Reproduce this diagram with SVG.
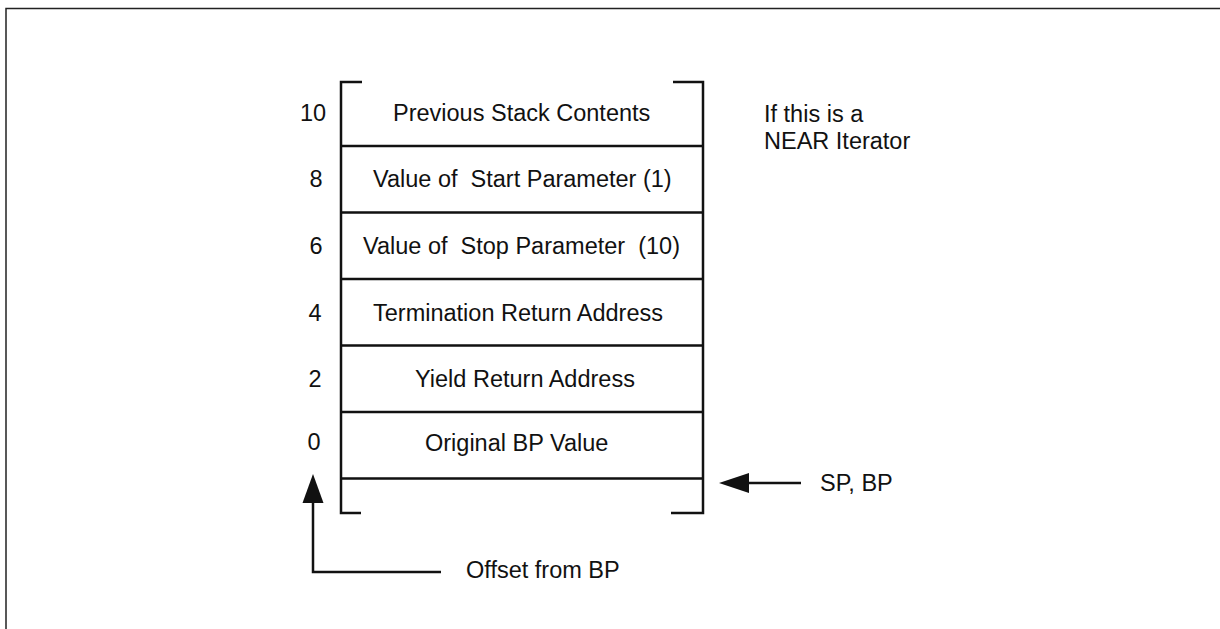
<svg xmlns="http://www.w3.org/2000/svg" width="1220" height="629" viewBox="0 0 1220 629">
<style>
.t{font-family:"Liberation Sans",Arial,sans-serif;font-size:23.5px;fill:#111;white-space:pre}
.ln{stroke:#111;stroke-width:2.5;fill:none}
.ah{fill:#111;stroke:none}
</style>
<rect width="1220" height="629" fill="#fff"/>
<rect x="6" y="8.5" width="1400" height="800" fill="none" stroke="#222" stroke-width="1.5"/>
<g id="stack">
<path class="ln" d="M362,82 H341 V513 H361"/>
<path class="ln" d="M673,82 H703 V513 H671"/>
<path class="ln" d="M341,146 H703 M341,212.5 H703 M341,279 H703 M341,345.5 H703 M341,412 H703 M341,478.5 H703"/>
</g>
<g id="row10"><text class="t" x="313" y="121" text-anchor="middle">10</text><text class="t" x="393" y="121">Previous Stack Contents</text></g>
<g id="row8"><text class="t" x="316" y="187" text-anchor="middle">8</text><text class="t" x="373" y="187" xml:space="preserve">Value of  Start Parameter (1)</text></g>
<g id="row6"><text class="t" x="316" y="254" text-anchor="middle">6</text><text class="t" x="363" y="254" xml:space="preserve">Value of  Stop Parameter  (10)</text></g>
<g id="row4"><text class="t" x="315" y="321" text-anchor="middle">4</text><text class="t" x="373" y="321">Termination Return Address</text></g>
<g id="row2"><text class="t" x="315" y="387" text-anchor="middle">2</text><text class="t" x="415" y="387">Yield Return Address</text></g>
<g id="row0"><text class="t" x="314" y="450" text-anchor="middle">0</text><text class="t" x="425" y="451">Original BP Value</text></g>
<g id="note"><text class="t" x="764" y="122">If this is a</text><text class="t" x="764" y="149">NEAR Iterator</text></g>
<g id="spbp"><text class="t" x="820" y="491">SP, BP</text></g>
<g id="offset"><text class="t" x="466" y="578">Offset from BP</text></g>
<g id="connectors">
<path class="ln" d="M801,483 H745"/>
<polygon class="ah" points="719,483 749,473 749,493"/>
<path class="ln" d="M313,500 V572 H441"/>
<polygon class="ah" points="313,474 302.5,503 323.5,503"/>
</g>
</svg>
